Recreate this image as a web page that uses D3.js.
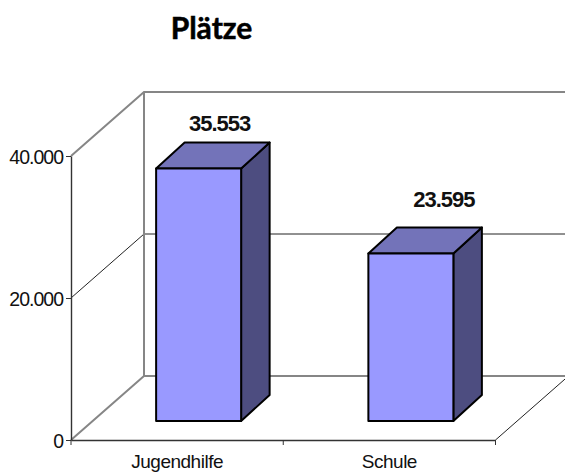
<!DOCTYPE html>
<html><head><meta charset="utf-8">
<script src="https://cdn.jsdelivr.net/npm/d3@7/dist/d3.min.js"></script>
<style>html,body{margin:0;padding:0;background:#fff}svg{display:block}</style>
</head><body><svg id="c" width="565" height="474"></svg>
<script>
const title = "Plätze";
const categories = ["Jugendhilfe", "Schule"];
const values = [35553, 23595];
const valueLabels = ["35.553", "23.595"];
const tickValues = [0, 20000, 40000];
const tickLabels = ["0", "20.000", "40.000"];

const W = 565, H = 474;
const svg = d3.select("#c").attr("viewBox", [0, 0, W, H]);
const x = d3.scaleBand().domain(categories).range([71, 495.5]);
const y = d3.scaleLinear().domain([0, 40000]).range([440, 156]);
const depth = {dx: 73, dy: -64}, barDepth = {dx: 28.5, dy: -26}, barW = 85;
const barShift = {dx: 21.5, dy: -19};
const labelShift = [{dx: 21, dy: -38}, {dx: 33, dy: -46.5}];
const font = "'Liberation Sans', Arial, sans-serif";
const grey = "#868686", dark = "#333";

const walls = svg.append("g");
const x0 = x.range()[0], x1 = x.range()[1];
tickValues.forEach(t => {
  const major = t !== 20000;
  const col = major ? grey : "#222", sw = major ? 2 : 1;
  walls.append("path").attr("fill","none").attr("stroke",col).attr("stroke-width",sw)
    .attr("d", d3.line()([[x0, y(t)],[x0+depth.dx, y(t)+depth.dy],[W+5, y(t)+depth.dy]]));
});
walls.append("line").attr("x1",x0+depth.dx).attr("x2",x0+depth.dx)
  .attr("y1",y(0)+depth.dy).attr("y2",y(40000)+depth.dy).attr("stroke",grey).attr("stroke-width",2);
walls.append("line").attr("x1",x1).attr("y1",y(0)).attr("x2",x1+depth.dx).attr("y2",y(0)+depth.dy)
  .attr("stroke","#222").attr("stroke-width",1);

const fmtTick = d => tickLabels[tickValues.indexOf(d)];
const yAxis = svg.append("g").attr("transform",`translate(${x0},0)`)
  .call(d3.axisLeft(y).tickValues(tickValues).tickFormat(fmtTick).tickSize(5).tickSizeOuter(0).tickPadding(3));
yAxis.select(".domain").attr("stroke",dark).attr("stroke-width",1.4);
yAxis.selectAll(".tick line").attr("stroke",dark);
yAxis.selectAll("text").attr("font-family",font).attr("font-size",19.5).attr("letter-spacing","-1px").attr("dy","0.38em").attr("fill","#111");

const xAxis = svg.append("g").attr("transform",`translate(0,${y(0)})`)
  .call(d3.axisBottom(x).tickSize(0).tickPadding(15));
xAxis.select(".domain").attr("stroke",dark).attr("stroke-width",1.4);
xAxis.selectAll("text").attr("font-family",font).attr("font-size",19).attr("letter-spacing","-0.5px").attr("fill","#111");
const catTicks = [x1 - x.step(), x1, x0];
xAxis.selectAll(".sep").data(catTicks).join("line").attr("class","sep")
  .attr("x1",d=>d).attr("x2",d=>d).attr("y1",0).attr("y2",5).attr("stroke",dark);

const g = svg.append("g").selectAll("g").data(categories).join("g");
const L = (d,i) => x(d) + x.bandwidth()/2 + barShift.dx - barW/2;
const T = (d,i) => y(values[i]) + barShift.dy;
const B = y(0) + barShift.dy;
const line = d3.line();
const bs = {stroke:"#000","stroke-width":2,"stroke-linejoin":"round"};
function style(s){ Object.entries(bs).forEach(([k,v])=>s.attr(k,v)); return s; }
style(g.append("path").attr("fill","#4d4d80").attr("d",(d,i)=>{
  const r=L(d,i)+barW, t=T(d,i);
  return line([[r,t],[r+barDepth.dx,t+barDepth.dy],[r+barDepth.dx,B+barDepth.dy],[r,B]])+"Z";}));
style(g.append("path").attr("fill","#7373b9").attr("d",(d,i)=>{
  const l=L(d,i), t=T(d,i);
  return line([[l,t],[l+barDepth.dx,t+barDepth.dy],[l+barW+barDepth.dx,t+barDepth.dy],[l+barW,t]])+"Z";}));
style(g.append("path").attr("fill","#9999ff").attr("d",(d,i)=>{
  const l=L(d,i), t=T(d,i);
  return line([[l,t],[l+barW,t],[l+barW,B],[l,B]])+"Z";}));

g.append("text").text((d,i)=>valueLabels[i])
  .attr("x",(d,i)=>L(d,i)+barW/2+labelShift[i].dx)
  .attr("y",(d,i)=>T(d,i)+labelShift[i].dy)
  .attr("text-anchor","middle").attr("font-family",font).attr("font-weight","bold")
  .attr("font-size",22).attr("letter-spacing","-1px").attr("fill","#111");

svg.append("text").text(title).attr("x",211.5).attr("y",39).attr("text-anchor","middle")
  .attr("font-family","Lato,'Open Sans',sans-serif").attr("font-weight","bold")
  .attr("font-size",30).attr("fill","#000").attr("stroke","#000").attr("stroke-width",0.5);
</script></body></html>
